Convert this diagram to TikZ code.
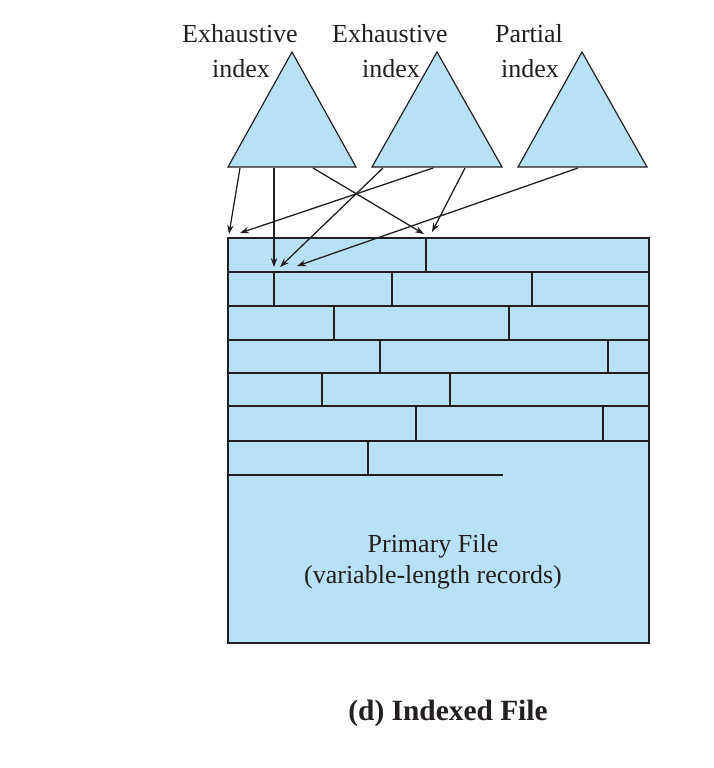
\documentclass[tikz,border=0pt]{standalone}
\usepackage{fontspec}
\setmainfont{Liberation Serif}
\usetikzlibrary{arrows.meta}
\definecolor{fileblue}{RGB}{185,225,245}
\definecolor{ink}{RGB}{35,31,32}
\begin{document}
\begin{tikzpicture}[x=0.5pt,y=-0.5pt,
  idx/.style={draw=ink, line width=0.6pt, fill=fileblue, line join=miter},
  rec/.style={draw=ink, line width=1.3pt},
  ptr/.style={draw=ink, line width=0.65pt, -{Stealth[length=4.5pt,width=3.2pt]}},
  lbl/.style={font=\fontsize{13}{15}\selectfont, anchor=base, inner sep=0pt, text=ink},
  captiontext/.style={font=\fontsize{14.7}{17}\selectfont\bfseries, anchor=base, inner sep=0pt, text=ink},
  ]
\useasboundingbox (0,0) rectangle (714,768);

% index triangles
\draw[idx] (292,52) coordinate (t1top) -- (356,167) coordinate (t1r) -- (228,167) coordinate (t1l) -- cycle;
\draw[idx] (437,52) coordinate (t2top) -- (502,167) coordinate (t2r) -- (372,167) coordinate (t2l) -- cycle;
\draw[idx] (582,52) coordinate (t3top) -- (647,167) coordinate (t3r) -- (518,167) coordinate (t3l) -- cycle;

% labels
\node[lbl] (l1a) at (240,42) {Exhaustive};
\node[lbl] (l1b) at (241,77) {index};
\node[lbl] (l2a) at (390,42) {Exhaustive};
\node[lbl] (l2b) at (391,77) {index};
\node[lbl] (l3a) at (529,42) {Partial};
\node[lbl] (l3b) at (530,77) {index};

% primary file
\draw[rec, fill=fileblue] (228,238) rectangle (649,643);
\foreach \y in {272,306,340,373,406,441} \draw[rec] (228,\y) -- (649,\y);
\draw[rec] (228,475) -- (503,475);
% record boundaries
\draw[rec] (426,238) -- (426,272);
\foreach \x in {274,392,532} \draw[rec] (\x,272) -- (\x,306);
\foreach \x in {334,509} \draw[rec] (\x,306) -- (\x,340);
\foreach \x in {380,608} \draw[rec] (\x,340) -- (\x,373);
\foreach \x in {322,450} \draw[rec] (\x,373) -- (\x,406);
\foreach \x in {416,603} \draw[rec] (\x,406) -- (\x,441);
\draw[rec] (368,441) -- (368,475);

\node[lbl] (pf1) at (433,552) {Primary File};
\node[lbl] (pf2) at (433,583) {(variable-length records)};

% pointer start and end points
\coordinate (sa) at (240,168);
\coordinate (sb) at (274,168);
\coordinate (sc) at (313,168);
\coordinate (sd) at (433,168);
\coordinate (se) at (383,168);
\coordinate (sf) at (465,168);
\coordinate (sg) at (578,168);
\coordinate (ea) at (229,234);
\coordinate (eb) at (274,267);
\coordinate (ec) at (424,234);
\coordinate (ed) at (240,233);
\coordinate (ee) at (280,267);
\coordinate (ef) at (432,232);
\coordinate (eg) at (297,266);

\draw[ptr] (sa) -- (ea);
\draw[ptr, line width=1.1pt] (sb) -- (eb);
\draw[ptr] (sc) -- (ec);
\draw[ptr] (sd) -- (ed);
\draw[ptr] (se) -- (ee);
\draw[ptr] (sf) -- (ef);
\draw[ptr] (sg) -- (eg);

\node[captiontext] (caption) at (448,720) {(d) Indexed File};
\end{tikzpicture}
\end{document}
